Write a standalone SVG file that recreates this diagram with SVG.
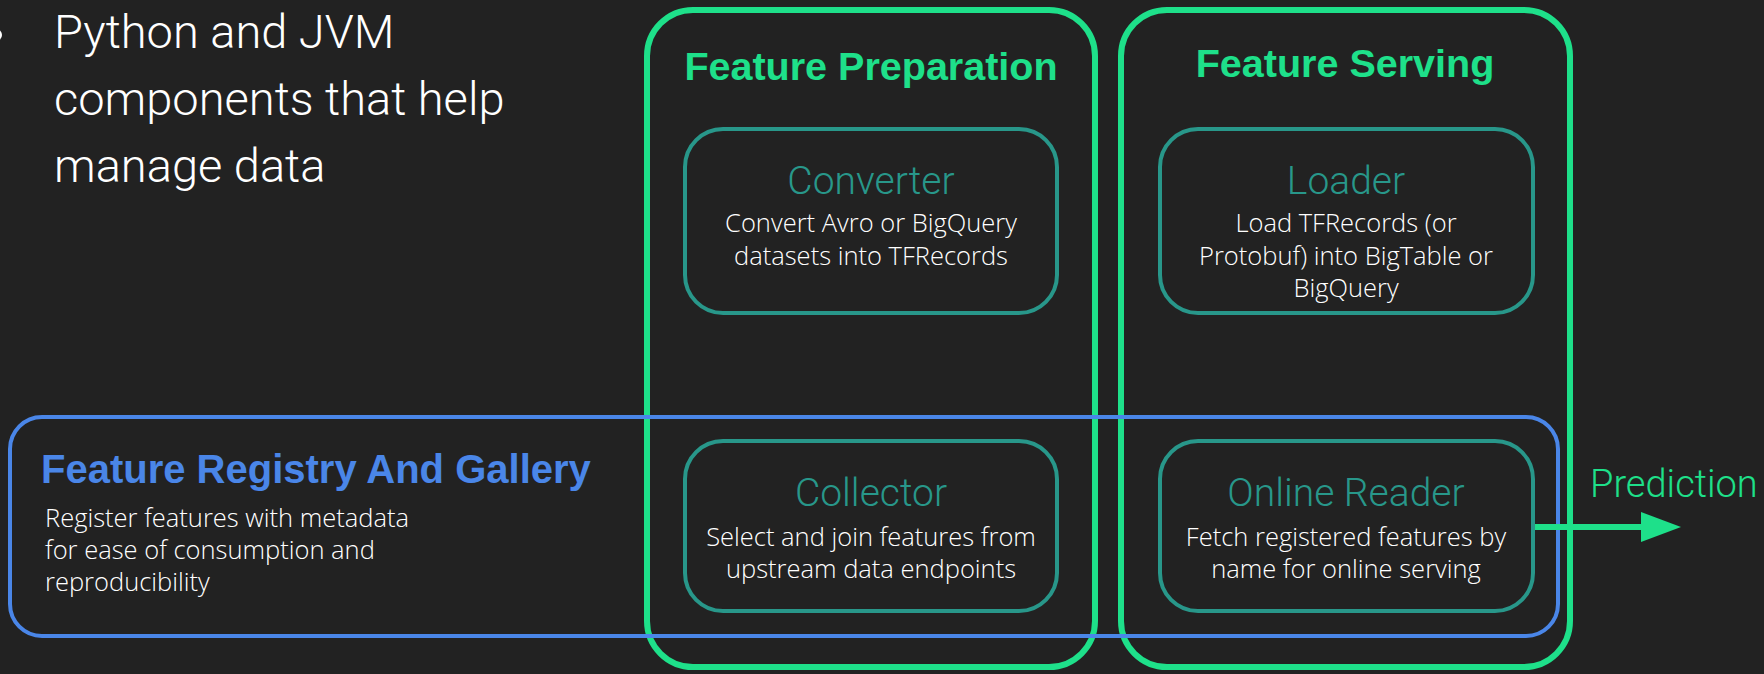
<svg xmlns="http://www.w3.org/2000/svg" width="1764" height="674" viewBox="0 0 1764 674">
  <style>
    .bg { fill: #222222; }
    .group { fill: none; stroke: #1EE08A; stroke-width: 6; }
    .registry { fill: none; stroke: #4A86E8; stroke-width: 4; }
    .comp { fill: none; stroke: #28978A; stroke-width: 4; }
    .head { font-family: "Liberation Sans", Arial, sans-serif; font-weight: bold; font-size: 39.5px; fill: #1EE08A; }
    .head-blue { font-family: "Liberation Sans", Arial, sans-serif; font-weight: bold; font-size: 40px; fill: #4A86E8; }
    .title { font-family: Roboto, "Liberation Sans", sans-serif; font-weight: 300; font-size: 39px; fill: #28978A; }
    .desc { font-family: "Open Sans", "Liberation Sans", sans-serif; font-weight: 300; font-size: 25.5px; fill: #FFFFFF; }
    .lead { font-family: Roboto, "Liberation Sans", sans-serif; font-weight: 300; font-size: 47px; fill: #FFFFFF; }
    .out { font-family: Roboto, "Liberation Sans", sans-serif; font-weight: 300; font-size: 38px; fill: #1EE08A; }
    .flow { stroke: #1EE08A; stroke-width: 6; fill: none; }
  </style>
  <defs>
    <marker id="arrow" viewBox="0 0 40 30" refX="0" refY="15" markerWidth="40" markerHeight="30" markerUnits="userSpaceOnUse" orient="auto">
      <path d="M0,0 L40,15 L0,30 Z" fill="#1EE08A"/>
    </marker>
  </defs>

  <rect class="bg" x="0" y="0" width="1764" height="674"/>

  <!-- bullet point, clipped by the left edge -->
  <circle cx="-4" cy="35" r="6" fill="#FFFFFF"/>

  <!-- intro text -->
  <g id="intro">
    <text class="lead" x="54" y="48">Python and JVM</text>
    <text class="lead" x="54" y="115">components that help</text>
    <text class="lead" x="54" y="182">manage data</text>
  </g>

  <!-- Feature Preparation column -->
  <g id="feature-preparation">
    <rect class="group" x="647" y="10" width="448" height="657" rx="46" ry="46"/>
    <text class="head" x="871" y="80" text-anchor="middle">Feature Preparation</text>
  </g>

  <!-- Feature Serving column -->
  <g id="feature-serving">
    <rect class="group" x="1121" y="10" width="449" height="657" rx="46" ry="46"/>
    <text class="head" x="1345" y="77" text-anchor="middle">Feature Serving</text>
  </g>

  <!-- Registry band across both columns -->
  <g id="feature-registry">
    <rect class="registry" x="10" y="417" width="1548" height="219" rx="32" ry="32"/>
    <text class="head-blue" x="41" y="483">Feature Registry And Gallery</text>
    <text class="desc" x="45" y="527">Register features with metadata</text>
    <text class="desc" x="45" y="559">for ease of consumption and</text>
    <text class="desc" x="45" y="591">reproducibility</text>
  </g>

  <g id="converter">
    <rect class="comp" x="685" y="129" width="372" height="184" rx="38" ry="38"/>
    <text class="title" x="871" y="194" text-anchor="middle">Converter</text>
    <text class="desc" x="871" y="232" text-anchor="middle">Convert Avro or BigQuery</text>
    <text class="desc" x="871" y="265" text-anchor="middle">datasets into TFRecords</text>
  </g>

  <g id="loader">
    <rect class="comp" x="1160" y="129" width="373" height="184" rx="38" ry="38"/>
    <text class="title" x="1346" y="194" text-anchor="middle">Loader</text>
    <text class="desc" x="1346" y="232" text-anchor="middle">Load TFRecords (or</text>
    <text class="desc" x="1346" y="265" text-anchor="middle">Protobuf) into BigTable or</text>
    <text class="desc" x="1346" y="297" text-anchor="middle">BigQuery</text>
  </g>

  <g id="collector">
    <rect class="comp" x="685" y="441" width="372" height="170" rx="38" ry="38"/>
    <text class="title" x="871" y="506" text-anchor="middle">Collector</text>
    <text class="desc" x="871" y="546" text-anchor="middle">Select and join features from</text>
    <text class="desc" x="871" y="578" text-anchor="middle">upstream data endpoints</text>
  </g>

  <g id="online-reader">
    <rect class="comp" x="1160" y="441" width="373" height="170" rx="38" ry="38"/>
    <text class="title" x="1346" y="506" text-anchor="middle">Online Reader</text>
    <text class="desc" x="1346" y="546" text-anchor="middle">Fetch registered features by</text>
    <text class="desc" x="1346" y="578" text-anchor="middle">name for online serving</text>
  </g>

  <g id="prediction">
    <text class="out" x="1590" y="497">Prediction</text>
  </g>

  <!-- connectors -->
  <g id="connectors">
    <line class="flow" x1="1535" y1="527" x2="1641" y2="527" marker-end="url(#arrow)"/>
  </g>
</svg>
